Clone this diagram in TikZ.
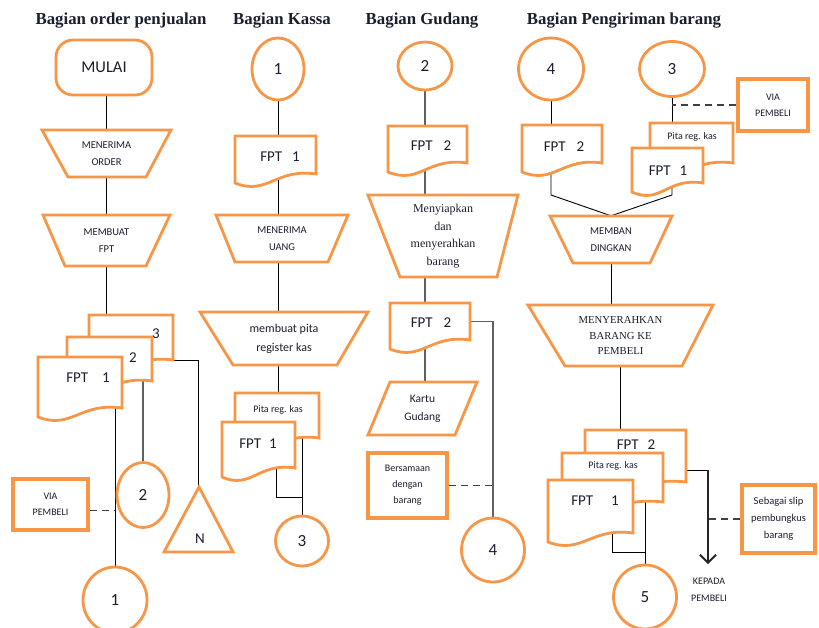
\documentclass[tikz,border=0pt]{standalone}
\usepackage{fontspec}
\setmainfont{Liberation Serif}
\newfontfamily\calib{Carlito}
\usetikzlibrary{shapes.geometric,arrows.meta,calc}
\definecolor{orng}{HTML}{F79646}
\definecolor{txt}{HTML}{1B1E2E}
\pgfdeclarelayer{bg}
\pgfsetlayers{bg,main}
\tikzset{
  ob/.style={draw=orng, line width=2.8pt, fill=white},
  obox/.style={draw=orng, line width=3.4pt, fill=white, inner sep=0pt, align=center, text=txt, font=\calib\fontsize{10}{16}\selectfont},
  conn/.style={draw=black, line width=0.9pt},
  gconn/.style={draw=black!62, line width=1.5pt},
  dconn/.style={draw=black!75, line width=1.2pt, dash pattern=on 7pt off 5pt},
  arr/.style={draw=black!85, line width=1.6pt, -{Straight Barb[length=8pt, width=16pt, line width=1.8pt]}},
  circ/.style={ellipse, ob, inner sep=0pt, text=txt, font=\calib\fontsize{17}{17}\selectfont},
  title/.style={font=\bfseries\fontsize{16.8}{18}\selectfont, text=txt, inner sep=0pt},
  smalltxt/.style={font=\calib\fontsize{10.5}{17}\selectfont, align=center, text=txt},
  doctxt/.style={font=\calib\fontsize{15}{15}\selectfont, text=txt, inner sep=0pt},
  pitatxt/.style={font=\calib\fontsize{10}{10}\selectfont, text=txt, inner sep=0pt},
  shapebox/.style={inner sep=0pt, align=center, text=txt},
}
\newcommand\trapz[9]{%
  \draw[ob] (#2,#4) -- (#3,#4) -- (#6,#7) -- (#5,#7) -- cycle;
  \node[shapebox,#8, minimum width={(#3-#2)*1pt}, minimum height={(#7-#4)*1pt}] (#1) at ({(#2+#3)/2},{(#4+#7)/2}) {#9};}
\newcommand\docsh[5]{%
  \draw[ob] (#2,#3) -- (#4,#3) -- (#4,#5) .. controls ({#2+0.5*(#4-#2)},{#5-6}) and ({#2+0.4*(#4-#2)},{#5+22}) .. (#2,{#5+9}) -- cycle;
  \node[inner sep=0pt, minimum width={(#4-#2)*1pt}, minimum height={(#5-#3)*1pt}] (#1) at ({(#2+#4)/2},{(#3+#5)/2}) {};}
\begin{document}
\begin{tikzpicture}[x=1pt,y=-1pt]
\begin{pgfonlayer}{bg}
\fill[white] (0,0) rectangle (819,627);
\end{pgfonlayer}
\useasboundingbox (0,0) rectangle (819,627);

% titles
\node[title] (h1) at (121,21) {Bagian order penjualan};
\node[title] (h2) at (282,21) {Bagian Kassa};
\node[title] (h3) at (422,21) {Bagian Gudang};
\node[title] (h4) at (624,21) {Bagian Pengiriman barang};

% ---------- column 1
\node[draw=orng, line width=2.8pt, rounded corners=17pt, minimum width=96pt, minimum height=55pt, font=\calib\fontsize{16.5}{16.5}\selectfont, text=txt, fill=white] (mulai) at (104,67.5) {MULAI};
\trapz{t1}{42}{171}{130}{68}{146}{177}{smalltxt}{MENERIMA\\ORDER}
\trapz{t2}{43}{170}{215}{65}{146}{266}{smalltxt}{MEMBUAT\\FPT}
\docsh{d13}{89}{315}{173}{360}
\docsh{d12}{67}{337}{152}{381}
\docsh{d11}{38}{357}{122}{408}
\node[doctxt] (d13t) at (156,334) {3};
\node[doctxt] (d12t) at (133,358) {2};
\node[doctxt] (d11t) at (88,378) {FPT\hspace{14pt}1};
\node[circ, minimum width=64pt, minimum height=66pt] (c1a) at (115,600) {1};
\node[circ, minimum width=52pt, minimum height=65pt] (c2a) at (143,495) {2};
\draw[ob] (199,487) -- (233,552) -- (164,552) -- cycle;
\node[inner sep=0pt, minimum width=69pt, minimum height=65pt] (tri) at (198.5,519.5) {};
\node[doctxt] (trin) at (200,539) {N};
\node[obox, minimum width=75pt, minimum height=51pt] (via1) at (50.5,504.5) {VIA\\PEMBELI};

% ---------- column 2
\node[circ, minimum width=52pt, minimum height=62pt] (c1b) at (278,69) {1};
\docsh{dk1}{235}{136}{316}{174}
\node[doctxt] (dk1t) at (280,157) {FPT\hspace{10pt}1};
\trapz{t3}{216}{348}{215}{235}{328}{262}{smalltxt}{MENERIMA\\UANG}
\trapz{t4}{200}{368}{312}{233}{337}{365}{smalltxt, font=\calib\fontsize{12}{19}\selectfont}{membuat pita\\register kas}
\docsh{dk2}{235}{393}{319}{438}
\node[pitatxt] (dk2t) at (278,410) {Pita reg. kas};
\docsh{dk3}{222}{422}{295}{468}
\node[doctxt] (dk3t) at (258,444) {FPT\hspace{8pt}1};
\node[circ, minimum width=53pt, minimum height=50pt] (c3b) at (302,541) {3};
\coordinate (k3j) at (302,497);
\coordinate (k3a) at ([xshift=17.5pt]dk3.south);

% ---------- column 3
\node[circ, minimum width=54pt, minimum height=48pt] (c2c) at (425,66) {2};
\docsh{dg1}{388}{126}{467}{163}
\node[doctxt] (dg1t) at (431,146) {FPT\hspace{11pt}2};
\trapz{t5}{368}{518}{195}{400}{497}{277}{font=\fontsize{12}{17.5}\selectfont}{Menyiapkan\\dan\\menyerahkan\\barang}
\docsh{dg2}{390}{303}{470}{340}
\node[doctxt] (dg2t) at (431,323) {FPT\hspace{11pt}2};
\draw[ob] (390,382) -- (477,382) -- (455,435) -- (368,435) -- cycle;
\node[shapebox, font=\calib\fontsize{11.5}{18}\selectfont, minimum width=109pt, minimum height=53pt] (kg) at (422.5,408.5) {Kartu\\Gudang};
\node[obox, minimum width=79pt, minimum height=65pt] (bers) at (407.5,485.5) {Bersamaan\\dengan\\barang};
\node[circ, minimum width=63pt, minimum height=64pt] (c4c) at (493,550) {4};

% ---------- column 4
\node[circ, minimum width=65pt, minimum height=62pt] (c4d) at (551,69) {4};
\node[circ, minimum width=65pt, minimum height=55pt] (c3d) at (672,69) {3};
\node[obox, minimum width=70pt, minimum height=52pt] (via2) at (773,105) {VIA\\PEMBELI};
\docsh{dp1}{522}{125}{602}{163}
\node[doctxt] (dp1t) at (564,147) {FPT\hspace{11pt}2};
\docsh{dp2}{650}{123}{733}{163}
\node[pitatxt] (dp2t) at (692,137) {Pita reg. kas};
\docsh{dp3}{632}{148}{703}{183}
\node[doctxt] (dp3t) at (668,171) {FPT\hspace{9pt}1};
\coordinate (j1) at (551,195);
\coordinate (j2) at (672,195);
\trapz{t6}{550}{672}{216}{573}{650}{263}{smalltxt}{MEMBAN\\DINGKAN}
\trapz{t7}{528}{713}{305}{565}{682}{366}{font=\fontsize{10.7}{15.5}\selectfont}{MENYERAHKAN\\BARANG KE\\PEMBELI}
\docsh{dq1}{585}{430}{686}{482}
\node[doctxt] (dq1t) at (636,445) {FPT\hspace{9pt}2};
\docsh{dq2}{562}{453}{663}{502}
\node[pitatxt] (dq2t) at (613,466) {Pita reg. kas};
\docsh{dq3}{548}{480}{633}{533}
\node[doctxt] (dq3t) at (595,501) {FPT\hspace{18pt}1};
\node[circ, minimum width=63pt, minimum height=64pt] (c5d) at (645,597) {5};
\coordinate (q3j) at (645,552);
\coordinate (q3a) at ([xshift=21.5pt]dq3.south);
\coordinate (arrtop) at (708,470);
\coordinate (arrend) at (708,564);
\node[smalltxt, font=\calib\fontsize{10}{17}\selectfont] (kepada) at (709,590) {KEPADA\\PEMBELI};
\node[obox, minimum width=73pt, minimum height=68pt, font=\calib\fontsize{10.5}{17}\selectfont] (slip) at (778.5,519) {Sebagai slip\\pembungkus\\barang};

% ---------- connectors
\begin{pgfonlayer}{bg}
\draw[conn] (t1.north |- mulai.south) -- (t1.north);
\draw[conn] (t1.south) -- (t2.north);
\draw[conn] (t2.south) -- (t2.south |- d13.north);
\draw[conn] (c1a.north |- d11.south) -- (c1a.north);
\draw[gconn] (c2a.north |- d12.south) -- (c2a.north);
\draw[conn] (d13.south east) -- (tri.north |- d13.south east) -- (tri.north);
\draw[dconn] ([yshift=-6pt]via1.east) -- ([yshift=-6pt]via1.east -| c1a.north);

\draw[conn] (c1b.south) -- (c1b.south |- dk1.north);
\draw[conn] (c1b.south |- dk1.south) -- (c1b.south |- t3.north);
\draw[conn] (c1b.south |- t3.south) -- (c1b.south |- t4.north);
\draw[conn] (c1b.south |- t4.south) -- (c1b.south |- dk2.north);
\draw[conn] (k3a) -- (k3a |- k3j) -- (k3j);
\draw[conn] (c3b.north |- dk2.south) -- (c3b.north);

\draw[gconn] (c2c.south) -- (c2c.south |- dg1.north);
\draw[gconn] (c2c.south |- dg1.south) -- (c2c.south |- t5.north);
\draw[gconn] (c2c.south |- t5.south) -- (c2c.south |- dg2.north);
\draw[gconn] (c2c.south |- dg2.south) -- (c2c.south |- kg.north);
\draw[gconn] (dg2.east) -- (c4c.north |- dg2.east) -- (c4c.north);
\draw[dconn] (bers.east) -- (bers.east -| c4c.north);

\draw[conn] (c4d.south) -- (c4d.south |- dp1.north);
\draw[conn] (c3d.south) -- (c3d.south |- dp2.north);
\draw[dconn] (via2.west) -- (via2.west -| c3d.south);
\draw[conn] (c4d.south |- dp1.south) -- (j1) -- (t6.north);
\draw[conn] (c3d.south |- dp3.south) -- (j2) -- (t6.north);
\draw[conn] (t6.south) -- (t6.south |- t7.north);
\draw[conn] (t7.south) -- (t7.south |- dq1.north);
\draw[conn] (q3a) -- (q3a |- q3j) -- (q3j);
\draw[conn] (c5d.north |- dq2.south) -- (c5d.north);
\draw[conn] (dq1.east |- arrtop) -- (arrtop);
\draw[arr] (arrtop) -- (arrend);
\draw[dconn] (slip.west) -- (slip.west -| arrtop);
\end{pgfonlayer}
\end{tikzpicture}
\end{document}
